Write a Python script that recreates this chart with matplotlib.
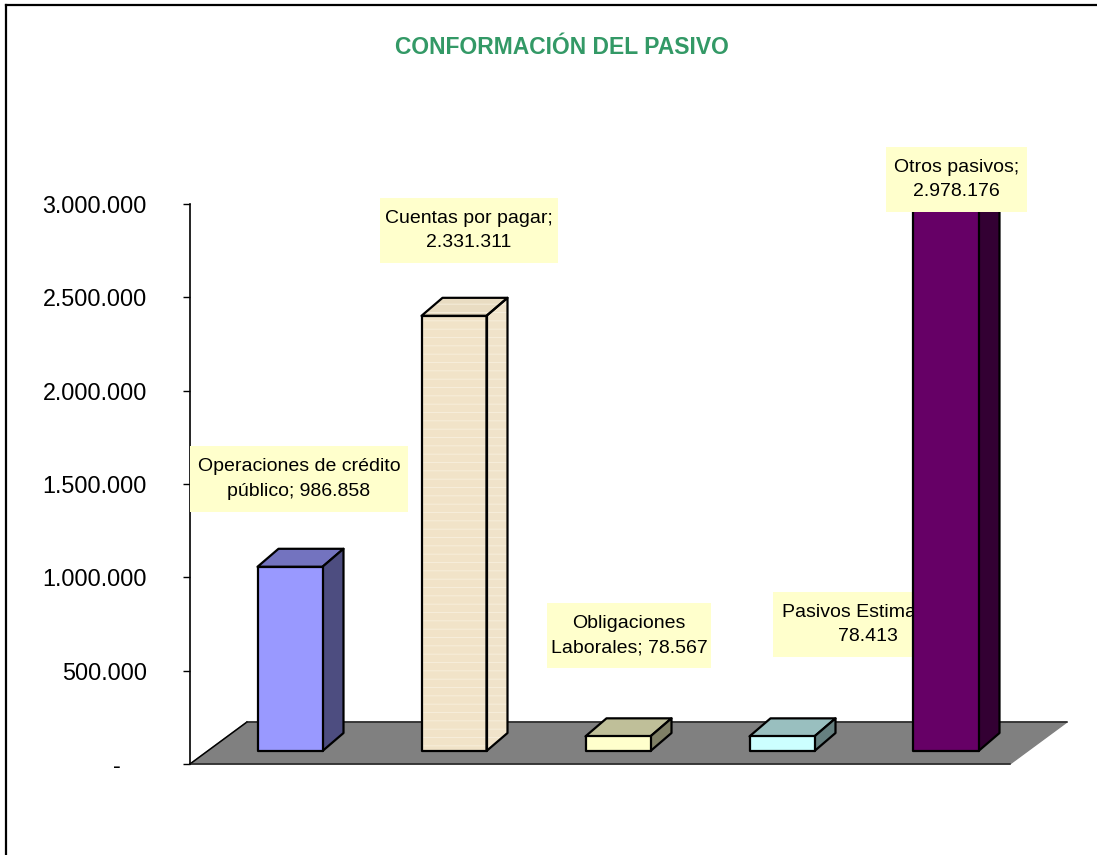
import matplotlib
matplotlib.use("Agg")
import matplotlib.pyplot as plt
from matplotlib.patches import Polygon, Rectangle
from matplotlib.lines import Line2D

plt.rcParams['font.family'] = ['Liberation Sans', 'DejaVu Sans']
plt.rcParams['hatch.linewidth'] = 0.6

# -----------------------------
# DATA
# -----------------------------
categories = ["Operaciones de crédito\npúblico; 986.858",
              "Cuentas por pagar;\n2.331.311",
              "Obligaciones\nLaborales; 78.567",
              "Pasivos Estimados;\n78.413",
              "Otros pasivos;\n2.978.176"]
values = [986858, 2331311, 78567, 78413, 2978176]
front_colors = ["#9999FF", "#F1E3C8", "#FFFFCC", "#CCFFFF", "#660066"]
top_colors = ["#7373BF", "#E9DCC2", "#BFBF99", "#99BFBF", "#4D004D"]
side_colors = ["#4D4D80", "#F0E3CA", "#808066", "#668080", "#330033"]
# label boxes in pixels of the picture: left, right, top, bottom
box_left = [190, 380, 547, 773, 886]
box_right = [408, 558, 711, 963, 1027]
box_top = [446, 198, 603, 592, 147]
box_bottom = [512, 263, 668, 657, 212]
yticks = [0, 500000, 1000000, 1500000, 2000000, 2500000, 3000000]
# trailing spaces: the dash of an accounting format stands left of the digits
ytick_labels = ["-    ", "500.000", "1.000.000", "1.500.000", "2.000.000", "2.500.000", "3.000.000"]

# -----------------------------
# SETTINGS
# -----------------------------
W, H = 1097, 855
LEFT, RIGHT, BASE, TOP = 190, 1010, 764, 204
PX_X = 5 / (RIGHT - LEFT)      # category units per pixel
PX_Y = 3000000 / (BASE - TOP)  # value units per pixel

BAR_W = 65 * PX_X
BAR_DX, BAR_DY = 21 * PX_X, 18 * PX_Y     # depth of a bar
SHIFT_X, SHIFT_Y = 18 * PX_X, 13 * PX_Y   # bars stand inside the floor
FLOOR_DX, FLOOR_DY = 57 * PX_X, 42 * PX_Y

fig = plt.figure(figsize=(W / 100, H / 100), dpi=100)
ax = fig.add_axes([LEFT / W, 1 - BASE / H, (RIGHT - LEFT) / W, (BASE - TOP) / H])
ax.set_xlim(0, 5)
ax.set_ylim(0, 3000000)
ax.patch.set_visible(False)

# -----------------------------
# FLOOR
# -----------------------------
ax.add_patch(Polygon([(0, 0), (5, 0), (5 + FLOOR_DX, FLOOR_DY), (FLOOR_DX, FLOOR_DY)],
                     closed=True, facecolor="#808080", edgecolor="#808080",
                     lw=1, clip_on=False, zorder=2))
ax.add_line(Line2D([0, FLOOR_DX], [0, FLOOR_DY], color="black", lw=1.1, clip_on=False, zorder=2.1))
ax.add_line(Line2D([FLOOR_DX, 5 + FLOOR_DX], [FLOOR_DY, FLOOR_DY], color="#202020", lw=1.1,
                   clip_on=False, zorder=2.1))
ax.add_line(Line2D([0, 5], [0, 0], color="#202020", lw=1.1, clip_on=False, zorder=2.1))

# -----------------------------
# BARS
# -----------------------------
for i, v in enumerate(values):
    x0 = i + 0.5 - BAR_W / 2 + SHIFT_X
    x1 = x0 + BAR_W
    y0 = SHIFT_Y
    y1 = SHIFT_Y + v
    faces = [
        ([(x0, y1), (x1, y1), (x1 + BAR_DX, y1 + BAR_DY), (x0 + BAR_DX, y1 + BAR_DY)], top_colors[i]),
        ([(x1, y0), (x1 + BAR_DX, y0 + BAR_DY), (x1 + BAR_DX, y1 + BAR_DY), (x1, y1)], side_colors[i]),
        ([(x0, y0), (x1, y0), (x1, y1), (x0, y1)], front_colors[i]),
    ]
    for pts, col in faces:
        if i == 1:
            # wood-like texture of the second bar
            ax.add_patch(Polygon(pts, closed=True, facecolor=col, edgecolor="#F8F0DE",
                                 hatch="--", lw=0, clip_on=False, zorder=4))
            ax.add_patch(Polygon(pts, closed=True, fill=False, edgecolor="black",
                                 lw=1.6, joinstyle="round", clip_on=False, zorder=4.1))
        else:
            ax.add_patch(Polygon(pts, closed=True, facecolor=col, edgecolor="black",
                                 lw=1.6, joinstyle="round", clip_on=False, zorder=4))

# -----------------------------
# LABELS
# -----------------------------
for i, txt in enumerate(categories):
    # the Pasivos Estimados label sits behind the last bar
    z = 3 if i == 3 else 5
    ax.add_patch(Rectangle((box_left[i] / W, 1 - box_bottom[i] / H),
                           (box_right[i] - box_left[i]) / W, (box_bottom[i] - box_top[i]) / H,
                           transform=fig.transFigure, facecolor="#FFFFCC", edgecolor="none",
                           clip_on=False, zorder=z))
    ax.text((box_left[i] + box_right[i]) / 2 / W, 1 - (box_top[i] + box_bottom[i]) / 2 / H, txt,
            transform=fig.transFigure, ha="center", va="center", fontsize=14, color="black",
            linespacing=1.58, zorder=z + 0.1, clip_on=False)

# -----------------------------
# AXIS
# -----------------------------
ax.set_xticks([])
ax.set_yticks(yticks)
ax.set_yticklabels(ytick_labels, fontsize=16.8)
ax.tick_params(axis="y", length=5, width=1, pad=26, color="black")
for s in ["top", "right", "bottom"]:
    ax.spines[s].set_visible(False)
ax.spines["left"].set_linewidth(1.2)

fig.text(562 / W, 1 - 48 / H, "CONFORMACIÓN DEL PASIVO", ha="center", va="center",
         fontsize=16.5, fontweight="bold", color="#339966")

# outer chart border, only top and left are inside the picture
fig.add_artist(Line2D([6 / W, 6 / W], [0, 1 - 5 / H], color="black", lw=1.6))
fig.add_artist(Line2D([6 / W, 1], [1 - 5 / H, 1 - 5 / H], color="black", lw=1.6))

fig.savefig("out.png", dpi=100)
